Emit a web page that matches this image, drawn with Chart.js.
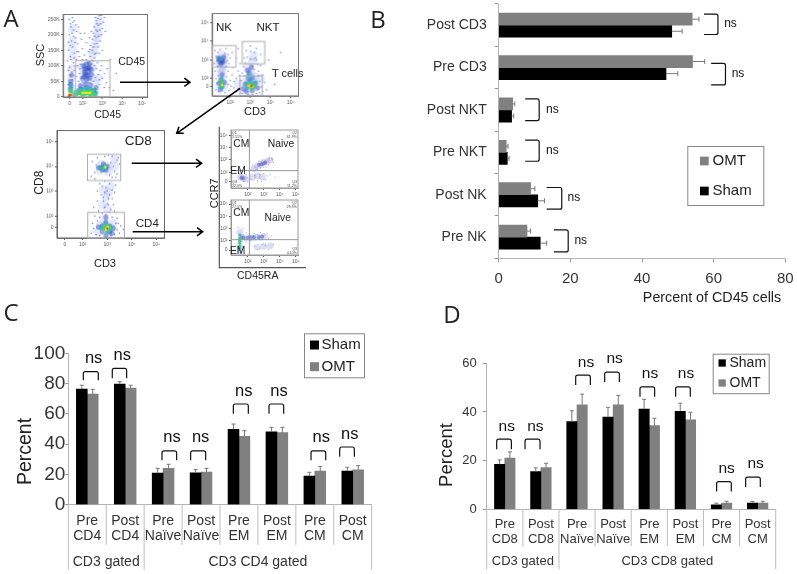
<!DOCTYPE html>
<html><head><meta charset="utf-8">
<script src="https://cdn.jsdelivr.net/npm/chart.js@4"></script>
<style>
html,body{margin:0;padding:0;background:#fff;width:797px;height:574px;overflow:hidden}
canvas{position:absolute;display:block}
.flow{filter:blur(0.6px)}
svg{position:absolute;left:0;top:0}
svg text{font-family:"Liberation Sans",Arial,sans-serif;fill:#222;dominant-baseline:central;text-anchor:middle}
</style></head><body>
<script>
// ---------- Panel B ----------
const bCats=['Post CD3','Pre CD3','Post NKT','Pre NKT','Post NK','Pre NK'];
const bOmt=[54,54.1,3.9,2.1,8.9,7.9];
const bOmtHi=[55.9,57.5,4.5,2.6,10.1,8.9];
const bSham=[48.3,46.7,3.6,2.4,10.9,11.6];
const bShamHi=[51.2,50,4.2,2.9,12.8,13.4];
const bBrackets=[[57.3,61.2,-0.26,0.22,64.7,-0.03],[59.3,63.3,0.90,1.41,66.8,1.14],[7.4,11.3,1.74,2.25,15,2.0],[7.4,11.3,2.71,3.21,15,2.95],[13.4,17.6,3.83,4.34,21,4.06],[15.4,19.4,4.83,5.35,22.9,5.09]];
// ---------- Panel C ----------
const cCats=[['Pre','CD4'],['Post','CD4'],['Pre','Naïve'],['Post','Naïve'],['Pre','EM'],['Post','EM'],['Pre','CM'],['Post','CM']];
const cSham=[76.4,79.7,20.9,21.1,49.8,48.2,18.9,22.2];
const cShamHi=[78.9,81.3,24,23.3,53.3,51.1,21.4,24.7];
const cOmt=[73.1,77.1,24,21.6,45.2,47.6,22.2,23.1];
const cOmtHi=[76.2,78.9,26.7,24,48.9,51.1,25.3,25.8];
const cBrackets=[[-0.104,0.291,87.9,82.2,0.168,96.9],[0.66,1.038,90.1,83.5,0.924,98.7],[1.97,2.357,35.5,29.3,2.234,44.3],[2.726,3.122,35.5,29.3,2.99,44.3],[3.852,4.247,66.5,60.1,4.124,75.1],[4.792,5.179,66.5,60.1,5.056,75.1],[5.9,6.287,35.5,29.3,6.172,44.3],[6.656,7.043,38.1,31.7,6.92,46.7]];
const cGroups=[['CD3 gated',0,1],['CD3 CD4 gated',2,7]];
// ---------- Panel D ----------
const dCats=[['Pre','CD8'],['Post','CD8'],['Pre','Naïve'],['Post','Naïve'],['Pre','EM'],['Post','EM'],['Pre','CM'],['Post','CM']];
const dSham=[18.5,15.5,36,37.9,41.2,40.3,1.8,2.6];
const dShamHi=[20.3,17,40.5,41.9,45.2,43.6,2.5,3.2];
const dOmt=[21,17.1,42.9,42.9,34.4,36.8,2.6,2.6];
const dOmtHi=[23.6,18.9,47.3,46.8,37.4,39.9,3.3,3.3];
const dBrackets=[[-0.223,0.183,28.8,24.7,0.054,33.8],[0.561,0.976,28.8,24.7,0.847,33.8],[1.963,2.369,55.1,51.1,2.249,60.4],[2.766,3.172,56.4,52.3,3.042,61.8],[3.743,4.149,50.3,46.3,4.02,55.8],[4.73,5.136,50.3,46.3,5.017,55.8],[5.865,6.271,11.4,7.3,6.142,16.8],[6.668,7.074,13.2,9.2,6.944,18.6]];
const dGroups=[['CD3 gated',0,1],['CD3 CD8 gated',2,7]];
// ---------- Panel A, flow plots (x and y) ----------
const a1Speck=[[1.3,40],[1.5,55],[1.4,70],[1.6,85],[1.35,95],[1.55,110],[1.7,120],[1.4,130],[1.6,140],[1.3,150],[1.5,160],[1.75,170],[1.45,180],[1.65,190],[1.35,200],[1.55,215],[1.8,225],[1.4,235],[1.6,245],[1.5,255],[1.75,100],[1.25,115],[1.8,145],[1.3,175],[1.9,205],[1.5,30],[1.7,65],[2.2,120],[2.4,130],[2.6,125],[2.3,145],[2.5,150],[2.7,140],[2.4,165],[2.6,170],[2.8,160],[2.5,185],[2.7,190],[2.9,180],[2.55,205],[2.75,210],[2.95,200],[2.6,225],[2.8,230],[3.0,220],[2.7,245],[2.9,250],[2.65,255],[2.85,262],[3.05,240],[2.2,175],[2.1,205],[2.0,155],[1.8,50],[1.85,75],[1.9,105],[2.0,120],[2.75,110],[2.9,85],[3.0,60],[2.85,40],[3.1,30],[2.95,100],[2.6,100],[2.1,135],[1.95,60],[3.1,75],[2.3,112],[2.45,105],[1.42,120],[1.58,125],[1.38,165],[1.62,175],[1.48,205],[1.42,225],[1.68,232],[1.33,250],[1.72,210],[1.52,240],[1.48,80],[1.62,100],[1.3,85],[1.72,145],[1.55,195],[2.48,118],[2.62,138],[2.38,152],[2.55,160],[2.72,172],[2.62,195],[2.82,195],[2.68,215],[2.88,215],[2.72,235],[2.92,235],[2.78,252],[2.95,262],[3.1,255],[3.15,210],[2.45,210],[2.35,190],[2.85,140],[3.0,150],[1.85,130],[1.95,185],[2.55,115],[2.7,90],[2.8,72],[2.65,62],[2.85,55],[2.55,50],[2.3,45],[2.0,48],[1.88,90],[3.2,45],[3.25,90],[3.4,120],[3.7,75],[3.35,30],[3.55,20]];
const a1Cloud=[[2.2,85],[2.05,70],[2.4,70],[2.2,100],[2.5,95],[1.95,95],[2.3,55],[2.0,40],[2.6,45],[2.8,60],[1.45,30],[1.45,60],[1.45,90],[1.5,130],[1.5,180],[2.5,135],[2.65,170],[2.8,205],[2.85,245],[1.5,155],[1.5,220],[2.58,150],[2.72,190],[2.75,225]];
const a1Deep=[[2.2,90],[2.3,80],[2.1,78],[2.25,68],[2.35,95],[1.4,25],[1.4,40],[2.2,30],[2.4,25],[1.9,25],[2.6,22],[2.0,60],[2.1,65],[2.2,55],[2.35,60],[2.45,72],[2.1,90],[2.2,105],[2.35,108],[2.05,100],[2.45,88],[2.15,72],[2.3,92],[1.4,50],[1.45,70],[2.7,30],[1.9,35],[2.15,40],[2.4,38]];
const a1Cyan=[[1.38,18],[2.0,13],[2.4,13],[2.2,20],[2.6,14],[1.85,12],[1.65,16],[1.8,22],[2.0,26],[2.2,28],[2.4,26],[2.6,20],[2.7,13],[2.65,6],[1.6,6],[2.4,4],[2.0,4],[1.4,28],[1.42,38]];
const a1Green=[[2.1,13],[2.2,14],[2.3,13],[2.0,11],[2.4,11],[1.4,10],[1.75,10],[1.85,14],[1.95,9],[1.95,17],[2.05,12],[2.1,18],[2.15,8],[2.25,16],[2.3,9],[2.35,19],[2.45,12],[2.5,17],[2.55,8],[1.7,7],[1.45,14],[1.38,22]];
const a1Yellow=[[2.0,12],[2.1,13],[2.2,13],[2.3,12],[2.4,13],[1.4,7],[1.36,10]];
const a1Red=[[1.35,3],[1.42,5],[1.3,1],[1.38,7],[1.32,5]];

const a2Speck=[[1.25,3.5],[1.5,3.55],[1.8,3.6],[2.1,3.4],[1.3,3.2],[1.9,3.3],[2.0,3.1],[1.2,2.8],[1.95,2.8],[2.15,2.6],[1.25,2.4],[1.9,2.4],[2.1,2.2],[1.3,2.0],[2.0,1.9],[2.3,2.0],[2.2,1.5],[1.3,1.4],[1.95,1.35],[2.4,2.4],[2.5,2.8],[2.7,3.1],[2.8,3.5],[3.0,3.75],[3.3,3.6],[3.5,3.3],[3.3,3.0],[3.5,2.7],[2.6,2.3],[3.4,2.4],[3.6,2.2],[3.7,1.8],[3.8,1.4],[2.5,1.25],[2.9,1.15],[3.3,1.2],[3.6,1.3],[2.55,1.9],[4.1,2.5],[4.5,3.4],[3.9,3.0],[4.2,1.7],[2.3,3.1],[2.4,3.6],[1.4,3.4],[1.75,3.35],[1.35,2.95],[1.85,2.95],[1.38,2.65],[1.8,2.65],[1.42,2.15],[1.82,2.1],[1.35,1.75],[1.9,1.7],[1.42,1.3],[1.75,1.25],[2.05,1.6],[2.3,1.3],[2.2,1.85],[2.45,2.15],[2.65,2.65],[3.0,3.45],[2.85,3.15],[3.2,3.4],[3.35,2.75],[3.4,2.15],[3.55,1.55],[3.45,1.25],[2.4,1.45],[2.6,1.2],[3.1,1.15],[2.7,2.15],[3.2,2.5],[3.45,1.85],[3.25,3.1],[3.0,3.05],[2.75,2.85],[3.1,2.65]];
const a2Cloud=[[1.55,3.05],[1.7,3.0],[1.45,2.85],[1.6,3.25],[1.55,2.55],[1.55,2.25],[1.6,1.9],[1.5,1.6],[1.7,1.6],[2.8,1.9],[3.1,1.8],[3.3,1.6],[2.7,1.5],[3.0,2.3],[2.9,2.6],[3.1,2.9],[3.15,3.2],[2.4,1.7],[3.5,2.0],[1.5,2.95],[1.65,2.75],[1.6,2.4],[2.95,1.45],[3.2,2.1]];
const a2Deep=[[1.5,3.05],[1.6,3.0],[1.55,2.8],[1.6,2.2],[1.55,1.95],[1.6,1.6],[2.9,2.0],[3.1,2.05],[2.85,2.45],[3.0,1.85],[3.25,1.75],[2.75,1.7],[1.42,3.1],[1.68,3.15],[1.5,2.9],[1.65,2.9],[1.45,1.75],[1.72,1.8],[1.52,1.4],[2.95,2.3],[3.05,2.6],[3.35,1.5],[2.65,1.45],[3.1,1.35],[2.8,1.3]];
const a2Cyan=[[1.58,1.95],[1.55,1.75],[1.6,1.55],[2.95,1.7],[3.1,1.7],[2.9,2.2],[3.15,1.55],[2.85,1.5],[1.55,3.05],[2.8,1.75],[3.25,1.8],[3.0,1.95],[1.5,1.5]];
const a2Green=[[1.58,1.75],[1.62,1.6],[3.0,1.6],[3.1,1.65],[2.9,1.58],[3.2,1.6],[1.55,1.9],[2.95,1.75],[3.05,1.45]];
const a2Yellow=[[1.6,1.65],[3.0,1.6],[3.1,1.58],[2.92,1.62]];
const a2Red=[[3.03,1.6],[3.08,1.62]];

const a3Speck=[[2.35,3.6],[2.4,4.2],[3.2,4.4],[3.45,4.35],[3.4,3.7],[3.2,3.55],[3.5,4.1],[2.5,3.5],[2.6,4.35],[2.9,4.4],[3.05,4.45],[2.7,3.3],[3.1,3.3],[3.35,3.25],[2.8,3.2],[3.3,2.95],[2.6,3.0],[2.75,2.85],[3.2,2.7],[2.6,2.6],[3.25,2.45],[2.65,2.2],[3.1,2.15],[3.3,2.2],[2.5,2.0],[3.4,1.9],[3.55,1.6],[3.5,1.3],[2.4,1.7],[2.35,1.3],[3.65,1.45],[2.45,2.35],[2.95,3.15],[3.0,2.5],[2.85,2.6],[3.3,3.8],[3.15,4.15],[3.4,4.25],[3.25,4.0],[2.5,3.75],[2.55,4.05],[3.35,3.55],[3.1,3.65],[2.9,3.4],[3.0,3.0],[3.2,3.05],[2.9,2.95],[3.1,2.85],[2.85,2.75],[3.05,2.7],[2.9,2.35],[3.05,2.45],[3.15,2.25],[2.8,2.1],[2.95,2.05],[2.7,1.95],[3.2,1.95],[3.35,1.7],[3.4,1.45],[3.3,1.25],[2.55,1.25],[2.45,1.5],[2.6,1.8],[3.45,1.7],[2.7,1.2],[3.15,1.2]];
const a3Cloud=[[2.85,3.95],[2.7,3.85],[3.0,4.0],[2.75,4.1],[3.05,3.8],[3.3,4.0],[3.3,4.3],[2.85,3.05],[3.05,2.95],[2.95,2.75],[3.15,3.2],[2.8,2.45],[3.0,2.3],[2.9,1.6],[2.7,1.6],[3.15,1.5],[2.85,1.85],[3.05,1.3],[3.25,1.7],[2.6,1.35]];
const a3Deep=[[2.85,3.95],[2.75,3.95],[2.95,3.85],[2.8,3.85],[2.95,1.5],[2.8,1.6],[3.1,1.6],[2.95,1.75],[3.1,1.35],[2.8,1.35],[2.65,3.95],[3.0,4.0],[2.85,4.1],[3.25,1.5],[2.65,1.55],[2.95,1.95],[3.2,1.3],[2.95,1.2]];
const a3Cyan=[[2.88,3.95],[2.95,4.0],[2.8,3.9],[2.9,1.55],[3.05,1.55],[2.95,1.7],[3.0,1.35],[2.75,1.5],[3.15,1.5],[2.72,3.95]];
const a3Green=[[2.92,3.97],[2.85,3.93],[2.95,1.5],[3.02,1.58],[2.9,1.6],[2.85,1.48],[3.05,1.42],[3.1,1.55]];
const a3Yellow=[[2.92,3.97],[2.98,1.53],[2.95,1.45],[3.03,1.55]];
const a3Red=[[3.0,1.5]];

const a4Speck=[[2.2,2.2],[2.5,2.2],[2.3,2.6],[2.7,2.9],[3.0,2.4],[3.3,2.6],[3.5,3.1],[3.6,2.8],[2.2,1.4],[2.6,1.3],[3.1,1.4],[3.4,1.8],[3.0,1.9],[1.5,1.9],[1.3,1.3],[1.9,1.8],[2.0,1.2],[3.7,1.6],[2.6,2.2],[2.8,2.35],[3.2,2.4],[3.35,3.15],[3.55,3.0],[2.9,3.0],[2.45,1.75],[2.75,1.85],[3.2,1.7],[2.85,1.25],[1.45,1.45],[1.95,1.55],[1.75,1.25],[1.6,1.85]];
const a4Cloud=[[2.4,2.3],[2.6,2.5],[2.8,2.65],[3.0,2.75],[3.2,2.85],[3.4,3.0],[2.6,1.7],[2.9,1.6],[2.3,1.6],[1.7,1.5],[1.55,1.65],[1.85,1.45]];
const a4Deep=[[2.7,2.6],[2.85,2.65],[3.0,2.7],[3.1,2.8],[1.7,1.5],[1.6,1.55]];

const a5Speck=[[1.7,3.0],[1.4,3.1],[1.6,1.1],[1.9,2.7],[2.1,2.6],[2.4,2.6],[2.8,2.7],[3.2,2.6],[3.3,2.2],[3.5,2.4],[2.2,2.0],[2.6,1.3],[2.9,1.7],[3.3,1.3],[3.6,1.7],[2.1,1.5],[1.8,1.0],[1.9,1.9],[1.75,2.5],[2.05,2.4],[2.35,2.45],[2.6,2.5],[3.05,2.5],[3.25,2.4],[1.8,2.1],[2.1,2.1],[2.5,2.1],[2.85,2.15],[2.4,1.55],[2.75,1.4],[3.1,1.65]];
const a5Cloud=[[1.6,2.3],[1.9,2.25],[2.2,2.25],[2.5,2.3],[2.8,2.3],[3.0,2.35],[1.5,2.7],[1.5,1.6],[1.5,1.2],[2.6,1.5],[3.0,1.55],[3.4,1.6]];
const a5Deep=[[1.6,2.3],[1.5,2.0],[2.0,2.25],[2.4,2.3],[2.7,2.3],[1.75,2.25],[2.2,2.3],[2.9,2.35]];
const a5Cyan=[[1.5,2.5],[1.5,2.2],[1.5,1.9],[1.5,1.6],[1.5,1.3]];
const a5Green=[[1.5,2.2],[1.5,2.0],[1.5,1.8],[1.5,1.55],[1.45,1.4]];

const a1Gates=[[1.65,3.38,0,116]];
const a2Gates=[[1.14,2.29,2.62,3.77],[2.6,3.71,2.79,3.99],[2.48,3.59,1.1,2.14]];
const a3Gates=[[2.2,3.55,3.43,4.49],[2.21,3.7,1.11,2.14]];
const a4Lines=[2.1,2.13];
const a5Lines=[2.1,2.1];
const sup={2:'10²',3:'10³',4:'10⁴',5:'10⁵'};

Chart.defaults.animation=false;
Chart.defaults.responsive=false;
Chart.defaults.font.family='"Liberation Sans",Arial,sans-serif';

function addCanvas(x,y,w,h,cls){const c=document.createElement('canvas');c.width=w;c.height=h;c.style.left=x+'px';c.style.top=y+'px';c.style.width=w+'px';c.style.height=h+'px';if(cls)c.className=cls;document.body.appendChild(c);return c.getContext('2d');}
function fixAxis(s,key,size){s[key]=size;s.paddingTop=0;s.paddingBottom=0;s.paddingLeft=0;s.paddingRight=0;}

function marksPlugin(cfg){return{id:'marks',afterDatasetsDraw(ch){
  const g=ch.ctx,xs=ch.scales.x,ys=ch.scales.y,hz=cfg.horizontal;
  g.save();
  ch.data.datasets.forEach((d,di)=>{const m=ch.getDatasetMeta(di);
    g.strokeStyle=cfg.errColor;g.lineWidth=1;
    m.data.forEach((el,i)=>{g.beginPath();
      if(hz){const e=xs.getPixelForValue(d.hi[i]);g.moveTo(el.x,el.y);g.lineTo(e,el.y);g.moveTo(e,el.y-2.5);g.lineTo(e,el.y+2.5);}
      else{const e=ys.getPixelForValue(d.hi[i]);g.moveTo(el.x,el.y);g.lineTo(el.x,e);g.moveTo(el.x-2,e);g.lineTo(el.x+2,e);}
      g.stroke();});});
  g.strokeStyle='#111';g.lineWidth=1.2;g.fillStyle='#111';g.textAlign='center';g.textBaseline='middle';g.font=cfg.nsFont;
  cfg.brackets.forEach(b=>{
    const X0=xs.getPixelForValue(b[0]),X1=xs.getPixelForValue(b[1]),A=ys.getPixelForValue(b[2]),B=ys.getPixelForValue(b[3]);
    g.beginPath();
    if(hz){g.moveTo(X0,A);g.lineTo(X1-2,A);g.quadraticCurveTo(X1,A,X1,A+2);g.lineTo(X1,B-2);g.quadraticCurveTo(X1,B,X1-2,B);g.lineTo(X0,B);}
    else{g.moveTo(X0,B);g.lineTo(X0,A+2);g.quadraticCurveTo(X0,A,X0+2,A);g.lineTo(X1-2,A);g.quadraticCurveTo(X1,A,X1,A+2);g.lineTo(X1,B);}
    g.stroke();
    g.fillText('ns',xs.getPixelForValue(b[4]),ys.getPixelForValue(b[5]));
  });
  if(cfg.groups){
    const bot=ch.chartArea.bottom;g.strokeStyle='#bdbdbd';g.lineWidth=1;
    const n=ch.data.labels.length;
    const ends=new Set();cfg.groups.forEach(r=>{ends.add(r[1]);ends.add(r[2]+1);});
    for(let i=0;i<=n;i++){const px=xs.getPixelForValue(i-0.5);g.beginPath();g.moveTo(px,bot);g.lineTo(px,bot+(ends.has(i)?cfg.groupLen:cfg.innerLen));g.stroke();}
    g.fillStyle='#333';g.font=cfg.groupFont;
    cfg.groups.forEach(r=>g.fillText(r[0],(xs.getPixelForValue(r[1]-0.5)+xs.getPixelForValue(r[2]+0.5))/2,bot+cfg.groupY));
  }
  if(cfg.title){g.save();g.translate(cfg.title.x,cfg.title.y);g.rotate(-Math.PI/2);g.fillStyle='#222';g.font=cfg.title.font;g.fillText('Percent',0,0);g.restore();}
  if(cfg.xLabel){g.fillStyle='#222';g.font=cfg.xLabel.font;g.fillText(cfg.xLabel.text,cfg.xLabel.x,cfg.xLabel.y);}
  const L=cfg.legend;
  g.strokeStyle='#888';g.lineWidth=1;g.fillStyle='#fff';g.fillRect(L.x,L.y,L.w,L.h);g.strokeRect(L.x+.5,L.y+.5,L.w-1,L.h-1);
  g.textAlign='left';g.font=L.font;
  L.rows.forEach(r=>{g.fillStyle=r.color;g.fillRect(r.sx,r.y-r.s/2,r.s,r.s);g.fillStyle='#222';g.fillText(r.text,r.tx,r.y);});
  g.restore();
}};}

function barScales(o){return{
  cat:{type:'category',offset:true,afterFit:s=>{if(o.horizontal)fixAxis(s,'width',o.w);else fixAxis(s,'height',o.h);},
    border:{color:'#b4b4b4'},grid:{drawOnChartArea:false,offset:true,drawTicks:!!o.horizontal,tickLength:o.horizontal?4:0,color:'#999'},
    ticks:{color:'#333',font:{size:o.catSize,lineHeight:o.catLh||1.1},padding:o.catPad,autoSkip:false,maxRotation:0,minRotation:0}},
  val:{type:'linear',min:0,max:o.max,afterFit:s=>{if(o.horizontal)fixAxis(s,'height',o.h);else fixAxis(s,'width',o.w);},
    border:{color:'#b4b4b4'},grid:{drawOnChartArea:false,tickLength:o.valTick,color:'#999'},
    ticks:{stepSize:20,color:'#333',font:{size:o.valSize},padding:o.valPad}}
};}

function barChart(ctx,o){
  const sc=barScales(o);
  const scales=o.horizontal?{x:sc.val,y:sc.cat}:{x:sc.cat,y:sc.val};
  return new Chart(ctx,{type:'bar',
    data:{labels:o.labels,datasets:o.sets.map(s=>({label:s.label,data:s.data,hi:s.hi,backgroundColor:s.color,barThickness:o.bar,borderWidth:0,categoryPercentage:1,barPercentage:1}))},
    options:{indexAxis:o.horizontal?'y':'x',layout:{padding:o.pad},plugins:{legend:{display:false},tooltip:{enabled:false}},scales},
    plugins:[marksPlugin(o.marks)]});
}
const BLACK='#000000',GREY='#808080';

barChart(addCanvas(370,0,427,310),{horizontal:true,labels:bCats,max:80,bar:12.1,w:128.7,h:51.7,
  pad:{top:4,right:11.7,left:0,bottom:0},catSize:14,catPad:8,valSize:15,valPad:8,valTick:4,
  sets:[{label:'OMT',data:bOmt,hi:bOmtHi,color:GREY},{label:'Sham',data:bSham,hi:bShamHi,color:BLACK}],
  marks:{horizontal:true,errColor:'#777',brackets:bBrackets,nsFont:'12px "Liberation Sans"',
    xLabel:{text:'Percent of CD45 cells',x:342,y:298,font:'14.3px "Liberation Sans"'},
    legend:{x:317.3,y:146,w:77,h:60,font:'15px "Liberation Sans"',rows:[{text:'OMT',color:GREY,sx:330,tx:342.5,y:161,s:8.7},{text:'Sham',color:BLACK,sx:330,tx:342.5,y:191,s:8.7}]}}});

barChart(addCanvas(0,295,400,279),{labels:cCats,max:100,bar:10.9,w:68.3,h:69.3,
  pad:{top:58.3,right:28.3,left:0,bottom:0},catSize:14,catLh:1.07,catPad:9,valSize:19,valPad:0,valTick:3,
  sets:[{label:'Sham',data:cSham,hi:cShamHi,color:BLACK},{label:'OMT',data:cOmt,hi:cOmtHi,color:GREY}],
  marks:{errColor:'#777',brackets:cBrackets,nsFont:'16.5px "Liberation Sans"',groups:cGroups,groupLen:65,innerLen:40,groupY:57,groupFont:'14px "Liberation Sans"',
    title:{x:25.7,y:156.5,font:'19.5px "Liberation Sans"'},
    legend:{x:304,y:38.3,w:61,h:45,font:'15px "Liberation Sans"',rows:[{text:'Sham',color:BLACK,sx:310,tx:321.5,y:50,s:9},{text:'OMT',color:GREY,sx:310,tx:321.5,y:71.7,s:9}]}}});

barChart(addCanvas(410,295,387,279),{labels:dCats,max:60,bar:10.3,w:76.7,h:64.7,
  pad:{top:68.3,right:21.3,left:0,bottom:0},catSize:13,catLh:1.13,catPad:8,valSize:13,valPad:6,valTick:4,
  sets:[{label:'Sham',data:dSham,hi:dShamHi,color:BLACK},{label:'OMT',data:dOmt,hi:dOmtHi,color:GREY}],
  marks:{errColor:'#777',brackets:dBrackets,nsFont:'15.5px "Liberation Sans"',groups:dGroups,groupLen:60,innerLen:37,groupY:52,groupFont:'13px "Liberation Sans"',
    title:{x:36.7,y:160,font:'18.5px "Liberation Sans"'},
    legend:{x:302.7,y:58.7,w:57,h:40.5,font:'14px "Liberation Sans"',rows:[{text:'Sham',color:BLACK,sx:308.5,tx:319.5,y:68,s:7.3},{text:'OMT',color:GREY,sx:308.5,tx:319.5,y:88,s:7.3}]}}});

// ---------- flow cytometry plots ----------
function flowChart(o){
  const LM=18,BM=13,TM=1,RM=1;
  const w=o.box[2]-o.box[0],h=o.box[3]-o.box[1];
  const ctx=addCanvas(o.box[0]-LM,o.box[1]-TM,w+LM+RM,h+TM+BM,'flow');
  const layer=(pts,color,r)=>pts?{data:pts.map(p=>({x:p[0],y:p[1]})),pointRadius:r*(o.rs||1),pointBackgroundColor:color,pointBorderWidth:0,showLine:false}:null;
  // Chart.js paints dataset 0 last, so the hottest layer comes first.
  const sets=[layer(o.red,'rgba(225,60,30,.95)',1),layer(o.yellow,'rgba(235,225,60,.95)',1.3),layer(o.green,'rgba(70,210,90,.9)',1.8),layer(o.cyan,'rgba(50,175,190,.8)',2.1),
    layer(o.deep,o.deepC||'rgba(40,70,195,.45)',2.6),layer(o.speck,o.speckC||'rgba(70,90,205,.8)',.75),layer(o.cloud,o.cloudC||'rgba(130,145,230,.2)',4.5)].filter(Boolean);
  const axis=(lo,hi,vals,fmt,sz)=>({type:'linear',min:lo,max:hi,afterFit:s=>{fixAxis(s,sz==='w'?'width':'height',sz==='w'?LM:BM);},
    afterBuildTicks:s=>{s.ticks=vals.map(v=>({value:v}));},
    border:{color:o.frame||'#777'},grid:{drawOnChartArea:false,tickLength:2,color:'#555'},
    ticks:{color:'#555',font:{size:5},padding:1.5,autoSkip:false,maxRotation:0,minRotation:0,callback:fmt}});
  new Chart(ctx,{type:'scatter',data:{datasets:sets},options:{layout:{padding:{top:TM,right:RM,left:0,bottom:0}},plugins:{legend:{display:false},tooltip:{enabled:false}},
    scales:{x:axis(o.xr[0],o.xr[1],o.xt,o.xf,'h'),y:axis(o.yr[0],o.yr[1],o.yt,o.yf,'w')}},
    plugins:[{id:'gates',afterDatasetsDraw(ch){const g=ch.ctx,x=ch.scales.x,y=ch.scales.y,a=ch.chartArea;g.save();
      g.strokeStyle=o.frame||'#777';g.lineWidth=1;g.strokeRect(a.left,a.top,a.width,a.height);
      g.strokeStyle='#adadad';(o.gates||[]).forEach(q=>{g.strokeRect(x.getPixelForValue(q[0]),y.getPixelForValue(q[3]),x.getPixelForValue(q[1])-x.getPixelForValue(q[0]),y.getPixelForValue(q[2])-y.getPixelForValue(q[3]));});
      if(o.lines){g.strokeStyle='#999';const vx=x.getPixelForValue(o.lines[0]),hy=y.getPixelForValue(o.lines[1]);g.beginPath();g.moveTo(vx,a.top);g.lineTo(vx,a.bottom);g.moveTo(a.left,hy);g.lineTo(a.right,hy);g.stroke();}
      if(o.tiny){g.fillStyle='#444';g.font='3.6px "Liberation Sans"';g.textBaseline='middle';o.tiny.forEach(t=>{g.textAlign=t[3];g.fillText(t[0],t[1]==='l'?a.left+1:a.right-1,t[2]==='t'?a.top+3:a.bottom-6);g.fillText(t[4],t[1]==='l'?a.left+1:a.right-1,t[2]==='t'?a.top+7:a.bottom-2);});}
      g.restore();}}]});
}
const lg=v=>sup[v]||'0';
flowChart({box:[63.3,10.7,151,97.5],xr:[1.03,5.27],yr:[-0.6,265],xt:[1.35,2,3,4,5],xf:lg,yt:[0,50,100,150,200,250],yf:v=>v?v+'K':'0',
  speck:a1Speck,cloud:a1Cloud,deep:a1Deep,cyan:a1Cyan,green:a1Green,yellow:a1Yellow,red:a1Red,gates:a1Gates});
flowChart({box:[212,10,301.7,95.7],xr:[1.11,5.38],yr:[1.07,5.49],xt:[2,3,4,5],xf:lg,yt:[1.57,2,3,4,5],yf:lg,
  speck:a2Speck,cloud:a2Cloud,deep:a2Deep,cyan:a2Cyan,green:a2Green,yellow:a2Yellow,red:a2Red,gates:a2Gates});
flowChart({box:[56.7,126.7,168.3,237.7],xr:[.96,5.33],yr:[1.11,5.45],xt:[1.28,2,3,4,5],xf:lg,yt:[1.54,2,3,4,5],yf:lg,
  speck:a3Speck,cloud:a3Cloud,deep:a3Deep,cyan:a3Cyan,green:a3Green,yellow:a3Yellow,red:a3Red,gates:a3Gates,frame:'#666'});
flowChart({box:[230.7,127.3,300.7,188.3],xr:[.95,5.14],yr:[.72,5.42],xt:[2,3,4,5],xf:lg,yt:[1.25,2,3,4,5],yf:lg,
  speck:a4Speck,cloud:a4Cloud,deep:a4Deep,lines:a4Lines,rs:.75,frame:'#999',
  cloudC:'rgba(125,125,210,.28)',speckC:'rgba(110,110,200,.7)',deepC:'rgba(90,90,185,.5)',
  tiny:[['Q1','l','t','left','5.51%'],['Q2','r','t','right','61.9%'],['Q4','l','b','left','22.0%'],['Q3','r','b','right','11.2%']]});
flowChart({box:[230.7,196.7,300.7,255],xr:[.95,5.14],yr:[.85,5.33],xt:[2,3,4,5],xf:lg,yt:[1.25,2,3,4,5],yf:lg,
  speck:a5Speck,cloud:a5Cloud,deep:a5Deep,cyan:a5Cyan,green:a5Green,lines:a5Lines,rs:.75,frame:'#999',
  cloudC:'rgba(125,140,220,.28)',speckC:'rgba(110,120,205,.7)',deepC:'rgba(70,100,200,.55)',
  tiny:[['Q1','l','t','left','27.5%'],['Q2','r','t','right','29.9%'],['Q3','r','b','right','4.10%']]});

// ---------- arrows, labels ----------
const arrows=[[120,82.3,190,82.3],[240,88.3,176.7,133.3],[131.7,163.3,201.7,163.3],[132.7,231.7,202.7,231.7]];
const labels=[['CD45',131.7,60.7,10.5],['CD45',107.7,114.3,10.5],['NK',224,27,11.5],['NKT',268,27,11.5],['T cells',287.7,73,11],['CD3',255,111,11],
  ['CD8',138.3,140.7,13.5],['CD4',147.3,223.3,11.5],['CD3',105,263.3,11],['CM',241.3,143.3,10.3],['Naive',281,143.3,10.3],['EM',238,170,10.3],
  ['CM',241.3,212.7,10.3],['Naive',277.7,217.3,10.3],['EM',237.7,250,10.3],['CD45RA',257.7,274.7,10.5]];
const vLabels=[['SSC',40,55,11],['CD8',39,182.7,12],['CCR7',214.3,193.3,11]];
const panels=[['A',11,17],['B',378,18.5],['C',11,311.5],['D',452,313.5]];
let s='<svg xmlns="http://www.w3.org/2000/svg" width="797" height="574">';
s+='<path d="M219.3 126.7V267.7H306" fill="none" stroke="#555" stroke-width="1.2"/>';
s+='<path d="M301.7 63V81" stroke="#fff" stroke-width="2.5"/>';
arrows.forEach(a=>{const t=Math.atan2(a[3]-a[1],a[2]-a[0]),L=7,W=.62;
  s+=`<path d="M${a[0]} ${a[1]}L${a[2]} ${a[3]}M${a[2]-L*Math.cos(t-W)} ${a[3]-L*Math.sin(t-W)}L${a[2]} ${a[3]}L${a[2]-L*Math.cos(t+W)} ${a[3]-L*Math.sin(t+W)}" fill="none" stroke="#000" stroke-width="1.5"/>`;});
labels.forEach(l=>{s+=`<text x="${l[1]}" y="${l[2]}" font-size="${l[3]}">${l[0]}</text>`;});
vLabels.forEach(l=>{s+=`<text transform="translate(${l[1]} ${l[2]}) rotate(-90)" font-size="${l[3]}">${l[0]}</text>`;});
panels.forEach(l=>{s+=`<text x="${l[1]}" y="${l[2]}" font-size="24" style="font-family:'Open Sans'" fill="#111">${l[0]}</text>`;});
s+='</svg>';
document.body.insertAdjacentHTML('beforeend',s);
</script>
</body></html>
